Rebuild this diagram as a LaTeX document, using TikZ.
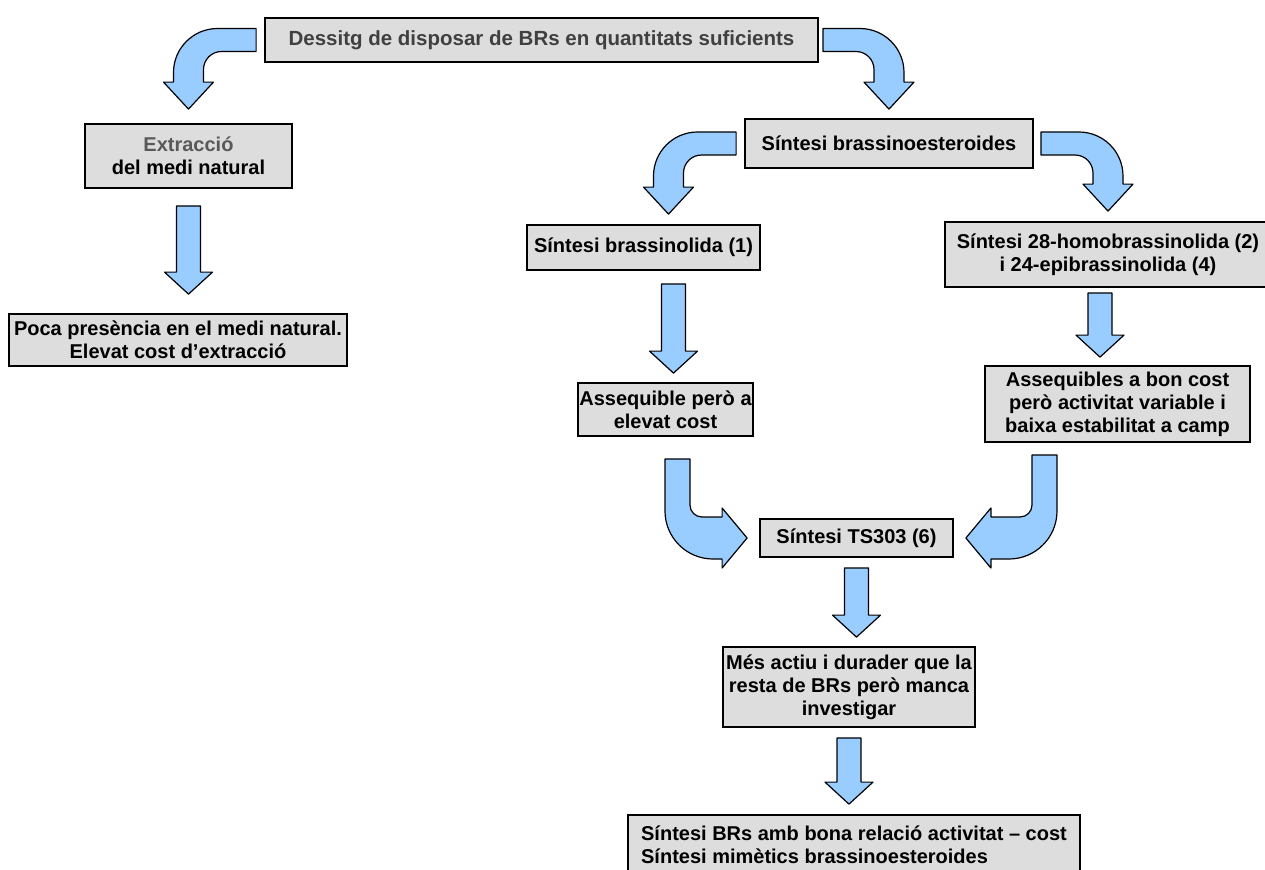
\documentclass[tikz,border=0pt]{standalone}
\usepackage{fontspec}
\setmainfont{Liberation Sans}
\usetikzlibrary{calc}
\definecolor{boxgray}{HTML}{DDDDDD}
\definecolor{arrblue}{HTML}{99CCFF}
\definecolor{txtgray}{HTML}{404040}
\definecolor{extgray}{HTML}{595959}
\tikzset{
  box/.style={draw,line width=0.9pt,fill=boxgray,align=center,inner sep=0pt,
    font=\bfseries\fontsize{10}{11.5}\selectfont},
  blk/.style={draw,fill=arrblue,line width=0.6pt,line join=round}
}
\newcommand{\downarr}[2]{\draw[blk] let \p1=(#1),\p2=(#2) in
  (\x1-6pt,\y1)--(\x1+6pt,\y1)--(\x1+6pt,\y2+11pt)--(\x1+12pt,\y2+11pt)--(\x1,\y2)
  --(\x1-12pt,\y2+11pt)--(\x1-6pt,\y2+11pt)--cycle;}
\newcommand{\bendl}[2]{\draw[blk] let \p1=(#1),\p2=(#2) in
  (\x1,\y1+5.75pt)--(\x2+14.5pt,\y1+5.75pt) arc[start angle=90,end angle=180,radius=22pt]
  --(\x2-7.5pt,\y2+13.5pt)--(\x2-12.5pt,\y2+13.5pt)--(\x2,\y2)--(\x2+12.5pt,\y2+13.5pt)
  --(\x2+7.5pt,\y2+13.5pt)--(\x2+7.5pt,\y1-14.75pt) arc[start angle=180,end angle=90,radius=9pt]
  --(\x1,\y1-5.75pt)--cycle;}
\newcommand{\bendr}[2]{\draw[blk] let \p1=(#1),\p2=(#2) in
  (\x1,\y1+5.75pt)--(\x2-14.5pt,\y1+5.75pt) arc[start angle=90,end angle=0,radius=22pt]
  --(\x2+7.5pt,\y2+13.5pt)--(\x2+12.5pt,\y2+13.5pt)--(\x2,\y2)--(\x2-12.5pt,\y2+13.5pt)
  --(\x2-7.5pt,\y2+13.5pt)--(\x2-7.5pt,\y1-14.75pt) arc[start angle=0,end angle=90,radius=9pt]
  --(\x1,\y1-5.75pt)--cycle;}
\newcommand{\turnr}[2]{\draw[blk] let \p1=(#1),\p2=(#2) in
  (\x1-6.25pt,\y1)--(\x1-6.25pt,\y2+13.5pt) arc[start angle=180,end angle=270,radius=24pt]
  --(\x2-12.5pt,\y2-10.5pt)--(\x2-12.5pt,\y2-15pt)--(\x2,\y2)--(\x2-12.5pt,\y2+15pt)
  --(\x2-12.5pt,\y2+10.5pt)--(\x1+12.25pt,\y2+10.5pt) arc[start angle=270,end angle=180,radius=6pt]
  --(\x1+6.25pt,\y1)--cycle;}
\newcommand{\turnl}[2]{\draw[blk] let \p1=(#1),\p2=(#2) in
  (\x1+6.25pt,\y1)--(\x1+6.25pt,\y2+13.5pt) arc[start angle=0,end angle=-90,radius=24pt]
  --(\x2+12.5pt,\y2-10.5pt)--(\x2+12.5pt,\y2-15pt)--(\x2,\y2)--(\x2+12.5pt,\y2+15pt)
  --(\x2+12.5pt,\y2+10.5pt)--(\x1-12.25pt,\y2+10.5pt) arc[start angle=-90,end angle=0,radius=6pt]
  --(\x1-6.25pt,\y1)--cycle;}

\begin{document}
\begin{tikzpicture}[x=0.5pt,y=-0.5pt]
\useasboundingbox (0,0) rectangle (1265,869);
\node (top) at (541.5,40) [box,minimum width=276.5pt,minimum height=22pt,text=txtgray,
  font=\bfseries\fontsize{10.25}{11.5}\selectfont]
  {Dessitg de disposar de BRs en quantitats suficients};
\node (ext) at (188.5,156) [box,minimum width=103.5pt,minimum height=32pt]
  {{\color{extgray}Extracció}\\del medi natural};
\node (poca) at (178,340) [box,minimum width=169pt,minimum height=26pt]
  {Poca presència en el medi natural.\\Elevat cost d’extracció};
\node (sbr) at (889,143.5) [box,minimum width=144pt,minimum height=24.5pt]
  {Síntesi brassinoesteroides};
\node (sbl) at (643.5,247.5) [box,minimum width=116.5pt,minimum height=22.5pt]
  {Síntesi brassinolida (1)};
\node (shomo) at (1108,254.5) [box,minimum width=163pt,minimum height=32.5pt]
  {Síntesi 28-homobrassinolida (2)\\i 24-epibrassinolida (4)};
\node (aq1) at (665.5,409.5) [box,minimum width=87.5pt,minimum height=26.5pt]
  {Assequible però a\\elevat cost};
\node (aq2) at (1117.5,404) [box,minimum width=132.5pt,minimum height=38pt]
  {Assequibles a bon cost\\però activitat variable i\\baixa estabilitat a camp};
\node (ts) at (856.5,538) [box,minimum width=96.5pt,minimum height=19pt]
  {Síntesi TS303 (6)};
\node (mes) at (849,687) [box,minimum width=126pt,minimum height=40pt]
  {Més actiu i durader que la\\resta de BRs però manca\\investigar};
\node (fin) at (854,845) [box,minimum width=226pt,minimum height=30pt,align=left]
  {Síntesi BRs amb bona relació activitat – cost\\Síntesi mimètics brassinoesteroides};
\bendl{$(top.west)+(-8,0)$}{$(ext.north)+(0,-14)$}
\bendr{$(top.east)+(4,0)$}{$(sbr.north)+(0,-9)$}
\downarr{$(ext.south)+(0,17)$}{$(poca.north)+(0,-19)$}
\bendl{$(sbr.west)+(-8,0)$}{$(sbl.north)+(25,-10)$}
\bendr{$(sbr.east)+(7,0)$}{$(shomo.north)+(0,-10)$}
\downarr{$(sbl.south)+(30,13)$}{$(aq1.north)+(0,-9)$}
\downarr{$(shomo.south)+(-8,5)$}{$(aq2.north)+(0,-8)$}
\turnr{$(aq1.south)+(12,22)$}{$(ts.west)+(-12,0)$}
\turnl{$(aq2.south)+(-73,12)$}{$(ts.east)+(12,0)$}
\downarr{$(ts.south)+(0,10)$}{$(mes.north)+(0,-9)$}
\downarr{$(mes.south)+(0,10)$}{$(fin.north)+(0,-10)$}
\end{tikzpicture}
\end{document}
